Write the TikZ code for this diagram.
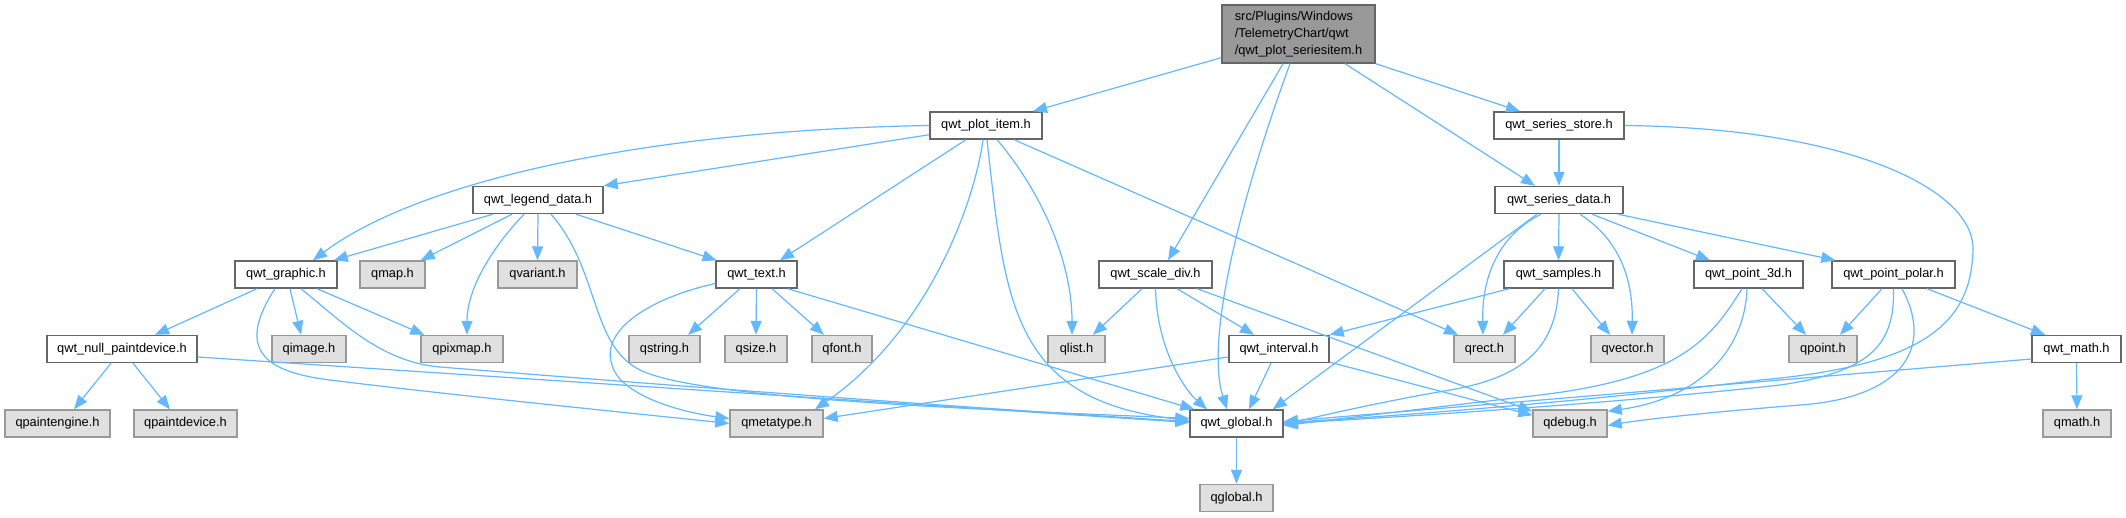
\documentclass[tikz,border=0pt]{standalone}
\usepackage{fontspec}
\setmainfont{Liberation Sans}
\usetikzlibrary{arrows.meta}
\definecolor{edgec}{HTML}{63B8FF}
\definecolor{extfill}{HTML}{E0E0E0}
\definecolor{extdraw}{HTML}{999999}
\definecolor{intdraw}{HTML}{666666}
\definecolor{rootfill}{HTML}{999999}
\begin{document}
\begin{tikzpicture}[x=1pt,y=-1pt,
 box/.style={font=\fontsize{12.8}{16.7}\selectfont, inner sep=0pt, minimum height=27pt, line width=1.4pt, anchor=center},
 int/.style={box, draw=intdraw, fill=white},
 ext/.style={box, draw=extdraw, fill=extfill},
 edge/.style={draw=edgec, line width=1.2pt, -{Triangle[length=14pt,width=11pt]}}]
\fill[white] (0,0) rectangle (2126,517);
\useasboundingbox (0,0) rectangle (2126,517);

% row 0
\node[box, draw=intdraw, fill=rootfill, minimum width=153pt, minimum height=58pt, align=left] (root) at (1298.5,34) {src/Plugins/Windows\\/TelemetryChart/qwt\\/qwt\_plot\_seriesitem.h};
% row 1
\node[int, minimum width=112pt] (plotitem) at (986,125.5) {qwt\_plot\_item.h};
\node[int, minimum width=130pt] (store) at (1559,125.5) {qwt\_series\_store.h};
% row 2
\node[int, minimum width=130pt] (legend) at (538,200) {qwt\_legend\_data.h};
\node[int, minimum width=128pt] (sdata) at (1559,200) {qwt\_series\_data.h};
% row 3
\node[int, minimum width=102pt] (graphic) at (286,274.5) {qwt\_graphic.h};
\node[ext, minimum width=65pt] (qmap) at (392.5,274.5) {qmap.h};
\node[ext, minimum width=79pt] (qvariant) at (537.5,274.5) {qvariant.h};
\node[int, minimum width=81pt] (text) at (756.5,274.5) {qwt\_text.h};
\node[int, minimum width=113pt] (scalediv) at (1155.5,274.5) {qwt\_scale\_div.h};
\node[int, minimum width=109pt] (samples) at (1558.5,274.5) {qwt\_samples.h};
\node[int, minimum width=109pt] (p3d) at (1748.5,274.5) {qwt\_point\_3d.h};
\node[int, minimum width=123pt] (polar) at (1893.5,274.5) {qwt\_point\_polar.h};
% row 4
\node[int, minimum width=150pt] (nullpd) at (122,349) {qwt\_null\_paintdevice.h};
\node[ext, minimum width=74pt] (qimage) at (309,349) {qimage.h};
\node[ext, minimum width=82pt] (qpixmap) at (462,349) {qpixmap.h};
\node[ext, minimum width=71pt] (qstring) at (664.5,349) {qstring.h};
\node[ext, minimum width=62pt] (qsize) at (756,349) {qsize.h};
\node[ext, minimum width=60pt] (qfont) at (842,349) {qfont.h};
\node[ext, minimum width=57pt] (qlist) at (1076.5,349) {qlist.h};
\node[int, minimum width=100pt] (interval) at (1279,349) {qwt\_interval.h};
\node[ext, minimum width=61pt] (qrect) at (1484.5,349) {qrect.h};
\node[ext, minimum width=73pt] (qvector) at (1627.5,349) {qvector.h};
\node[ext, minimum width=68pt] (qpoint) at (1823,349) {qpoint.h};
\node[int, minimum width=89pt] (qwtmath) at (2076.5,349) {qwt\_math.h};
% row 5
\node[ext, minimum width=105pt] (qpaintengine) at (57.5,423.5) {qpaintengine.h};
\node[ext, minimum width=103pt] (qpaintdevice) at (185.5,423.5) {qpaintdevice.h};
\node[ext, minimum width=93pt] (qmetatype) at (776.5,423.5) {qmetatype.h};
\node[int, minimum width=93pt] (qwtglobal) at (1236.5,423.5) {qwt\_global.h};
\node[ext, minimum width=74pt] (qdebug) at (1570,423.5) {qdebug.h};
\node[ext, minimum width=68pt] (qmath) at (2077,423.5) {qmath.h};
% row 6
\node[ext, minimum width=73pt] (qglobal) at (1236.5,498) {qglobal.h};

% root
\draw[edge] ([yshift=6pt]root.south west) -- ([xshift=47pt]plotitem.north);
\draw[edge] ([xshift=-15.5pt]root.south) -- ([xshift=12.5pt]scalediv.north);
\draw[edge] ([xshift=-8.5pt]root.south) .. controls (1240,200) and (1205,340) .. ([xshift=-9.5pt]qwtglobal.north);
\draw[edge] ([xshift=46.5pt]root.south) -- ([xshift=-24pt]sdata.north);
\draw[edge] (root.south east) -- ([xshift=-39pt]store.north);
% plot item
\draw[edge] ([yshift=5pt]plotitem.south west) -- (legend.north east);
\draw[edge] (plotitem.west) .. controls (650,130) and (420,180) .. ([xshift=27pt]graphic.north);
\draw[edge] ([xshift=-20pt]plotitem.south) -- ([xshift=23.5pt]text.north);
\draw[edge] ([xshift=-3pt]plotitem.south) .. controls (975,200) and (930,330) .. ([xshift=38.5pt]qmetatype.north);
\draw[edge] ([xshift=1pt]plotitem.south) .. controls (1005,300) and (1010,400) .. ([yshift=3pt]qwtglobal.west);
\draw[edge] ([xshift=11pt]plotitem.south) .. controls (1040,190) and (1072,260) .. ([xshift=-4.5pt]qlist.north);
\draw[edge] ([xshift=28pt]plotitem.south) -- ([xshift=-26.5pt]qrect.north);
% legend data
\draw[edge] ([xshift=-45pt]legend.south) -- ([xshift=-4pt]graphic.north east);
\draw[edge] ([xshift=-26pt]legend.south) -- ([xshift=-5pt]qmap.north east);
\draw[edge] ([xshift=-14pt]legend.south) .. controls (490,250) and (467,290) .. ([xshift=5pt]qpixmap.north);
\draw[edge] (legend.south) -- (qvariant.north);
\draw[edge] ([xshift=38pt]legend.south) -- ([xshift=-40pt]text.north);
\draw[edge] ([xshift=13pt]legend.south) .. controls (600,270) and (590,345) .. (640,370) .. controls (700,400) and (1000,410) .. ([yshift=5pt]qwtglobal.west);
% graphic
\draw[edge] ([xshift=-29pt]graphic.south) -- ([xshift=33pt]nullpd.north);
\draw[edge] ([xshift=4pt]graphic.south) -- ([xshift=-8pt]qimage.north);
\draw[edge] ([xshift=31pt]graphic.south) -- ([xshift=4pt]qpixmap.north west);
\draw[edge] ([xshift=-11pt]graphic.south) .. controls (235,350) and (265,372) .. (330,380) .. controls (450,395) and (650,415) .. (qmetatype.west);
\draw[edge] ([xshift=15pt]graphic.south) .. controls (340,320) and (380,362) .. (440,367) .. controls (700,388) and (1000,410) .. ([yshift=2pt]qwtglobal.west);
% null paint device
\draw[edge] ([xshift=-11pt]nullpd.south) -- ([xshift=16.5pt]qpaintengine.north);
\draw[edge] ([xshift=11pt]nullpd.south) -- ([xshift=-15.5pt]qpaintdevice.north);
\draw[edge] ([yshift=-8pt]nullpd.east) -- ([yshift=1pt]qwtglobal.west);
% text
\draw[edge] ([xshift=-16.5pt]text.south) -- ([xshift=23.5pt]qstring.north);
\draw[edge] (text.south) -- (qsize.north);
\draw[edge] ([xshift=15.5pt]text.south) -- ([xshift=-18pt]qfont.north);
\draw[edge] ([yshift=-9pt]text.west) .. controls (650,298) and (600,330) .. (612,365) .. controls (620,395) and (680,412) .. ([yshift=5pt]qmetatype.west);
\draw[edge] ([xshift=-10pt]text.south east) -- ([xshift=5pt]qwtglobal.north west);
% scale div
\draw[edge] ([xshift=-13.5pt]scalediv.south) -- ([xshift=16.5pt]qlist.north);
\draw[edge] ([xshift=21.5pt]scalediv.south) -- ([xshift=-25pt]interval.north);
\draw[edge] (scalediv.south) .. controls (1157,350) and (1185,390) .. ([xshift=-29.5pt]qwtglobal.north);
\draw[edge] ([xshift=41.5pt]scalediv.south) -- ([yshift=-2pt]qdebug.north west);
% interval
\draw[edge] ([xshift=-8pt]interval.south) -- ([xshift=12.5pt]qwtglobal.north);
\draw[edge] ([yshift=-8pt]interval.west) -- ([yshift=5pt]qmetatype.east);
\draw[edge] ([yshift=1pt]interval.south east) -- ([yshift=-6pt]qdebug.north west);
% series store
\draw[edge] (store.south) -- (sdata.north);
\draw[edge] (store.east) .. controls (1850,128) and (1975,190) .. (1973,250) .. controls (1971,320) and (1930,365) .. (1760,380) .. controls (1600,400) and (1400,416) .. ([yshift=1pt]qwtglobal.east);
% series data
\draw[edge] (sdata.south) -- (samples.north);
\draw[edge] ([xshift=33pt]sdata.south) -- ([xshift=-38.5pt]p3d.north);
\draw[edge] ([xshift=59pt]sdata.south) -- ([xshift=4pt]polar.north west);
\draw[edge] ([xshift=-18pt]sdata.south) .. controls (1490,240) and (1482,290) .. ([xshift=-1.5pt]qrect.north);
\draw[edge] ([xshift=21pt]sdata.south) .. controls (1620,240) and (1633,280) .. ([xshift=4.5pt]qvector.north);
\draw[edge] ([xshift=-22pt]sdata.south) -- ([xshift=-11pt]qwtglobal.north east);
% samples
\draw[edge] ([xshift=6pt]samples.south west) -- (interval.north east);
\draw[edge] ([xshift=-13.5pt]samples.south) -- ([xshift=18.5pt]qrect.north);
\draw[edge] ([xshift=13.5pt]samples.south) -- ([xshift=-17.5pt]qvector.north);
\draw[edge] (samples.south) .. controls (1556,350) and (1520,378) .. (1450,390) .. controls (1380,402) and (1320,416) .. ([yshift=-1pt]qwtglobal.east);
% point 3d
\draw[edge] ([xshift=13.5pt]p3d.south) -- ([xshift=-17pt]qpoint.north);
\draw[edge] ([xshift=-6.5pt]p3d.south) .. controls (1710,340) and (1680,378) .. (1540,395) .. controls (1420,409) and (1330,420) .. ([yshift=-2pt]qwtglobal.east);
\draw[edge] ([xshift=-1.5pt]p3d.south) .. controls (1745,350) and (1700,398) .. ([yshift=-2pt]qdebug.north east);
% point polar
\draw[edge] ([xshift=-11.5pt]polar.south) -- ([xshift=17pt]qpoint.north);
\draw[edge] ([xshift=33.5pt]polar.south) -- ([xshift=-31.5pt]qwtmath.north);
\draw[edge] (polar.south) .. controls (1895,345) and (1870,372) .. (1780,385) .. controls (1600,405) and (1380,418) .. (qwtglobal.east);
\draw[edge] ([xshift=8.5pt]polar.south) .. controls (1935,350) and (1900,398) .. (1800,405) .. controls (1700,413) and (1640,420) .. ([yshift=-2pt]qdebug.east);
% qwt math
\draw[edge] (qwtmath.south) -- (qmath.north);
\draw[edge] ([yshift=-10pt]qwtmath.west) -- ([yshift=2pt]qwtglobal.east);
% qwt global
\draw[edge] (qwtglobal.south) -- (qglobal.north);
\end{tikzpicture}
\end{document}
